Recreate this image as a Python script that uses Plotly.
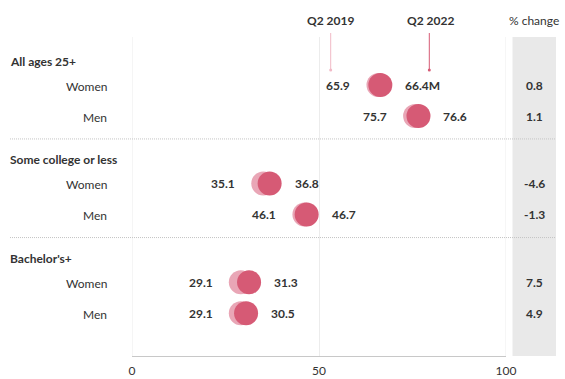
import plotly.graph_objects as go

# ---- data ----
groups = ["All ages 25+", "Some college or less", "Bachelor's+"]
row_labels = ["Women", "Men", "Women", "Men", "Women", "Men"]
row_group = [0, 0, 1, 1, 2, 2]
q2_2019 = [65.9, 75.7, 35.1, 46.1, 29.1, 29.1]
q2_2022 = [66.4, 76.6, 36.8, 46.7, 31.3, 30.5]
pct_change = ["0.8", "1.1", "-4.6", "-1.3", "7.5", "4.9"]
x_ticks = [0, 50, 100]

# ---- styling / layout helpers ----
FONT = "Lato, 'Open Sans', sans-serif"
TXT = "#333333"
LIGHT = "#e9a6b6"
DARK = "#d65a75"
GROUP_STEP = 3.18

sub_idx = []
seen = {}
for g in row_group:
    seen[g] = seen.get(g, -1) + 1
    sub_idx.append(seen[g])
ypos = [g * GROUP_STEP + s for g, s in zip(row_group, sub_idx)]

fig = go.Figure()
fig.add_trace(go.Scatter(x=q2_2019, y=ypos, mode="markers",
                         marker=dict(size=24, color=LIGHT, line=dict(width=0)),
                         hoverinfo="x", showlegend=False))
fig.add_trace(go.Scatter(x=q2_2022, y=ypos, mode="markers",
                         marker=dict(size=24, color=DARK, line=dict(width=0)),
                         hoverinfo="x", showlegend=False))

ann = []
shapes = []

def px2paper_x(px):
    return (px - 132) / 374.0

def px2paper_y(py):
    return (356 - py) / 319.0

# gray % change column
shapes.append(dict(type="rect", xref="paper", yref="paper",
                   x0=px2paper_x(512.5), x1=px2paper_x(556), y0=0, y1=1,
                   fillcolor="#e9e9e9", line=dict(width=0), layer="below"))

# faint vertical lines at the plot edges
for xv in [0, 100]:
    shapes.append(dict(type="line", xref="x", yref="paper", x0=xv, x1=xv, y0=0, y1=1,
                       line=dict(color="#ececec", width=1), layer="below"))

# value labels
for i, y in enumerate(ypos):
    ann.append(dict(x=q2_2019[i], y=y, xref="x", yref="y", text=f"<b>{q2_2019[i]}</b>",
                    showarrow=False, xanchor="right", xshift=-26,
                    font=dict(family=FONT, size=12, color=TXT)))
    suffix = "M" if i == 0 else ""
    ann.append(dict(x=q2_2022[i], y=y, xref="x", yref="y", text=f"<b>{q2_2022[i]}{suffix}</b>",
                    showarrow=False, xanchor="left", xshift=23,
                    font=dict(family=FONT, size=12, color=TXT)))
    ann.append(dict(x=px2paper_x(534), y=y, xref="paper", yref="y", text=f"<b>{pct_change[i]}</b>",
                    showarrow=False, xanchor="center",
                    font=dict(family=FONT, size=12, color=TXT)))
    ann.append(dict(x=px2paper_x(108.5), y=y, xref="paper", yref="y", text=row_labels[i],
                    showarrow=False, xanchor="right", yshift=-1,
                    font=dict(family=FONT, size=12, color=TXT)))

# group headers and separators
for g, name in enumerate(groups):
    start = g * GROUP_STEP
    ann.append(dict(x=px2paper_x(8), y=start - 0.77, xref="paper", yref="y",
                    text=f"<b>{name}</b>", showarrow=False, xanchor="left",
                    font=dict(family=FONT, size=12, color=TXT)))
    if g > 0:
        shapes.append(dict(type="line", xref="paper", yref="y",
                           x0=px2paper_x(10), x1=px2paper_x(556),
                           y0=start - 1.44, y1=start - 1.44,
                           line=dict(color="#c4c4c4", width=1, dash="1px,1px")))

# column headers
for xp, txt in [(330.5, "<b>Q2 2019</b>"), (430, "<b>Q2 2022</b>"), (534, "% change")]:
    ann.append(dict(x=px2paper_x(xp), y=px2paper_y(20), xref="paper", yref="paper",
                    text=txt, showarrow=False, xanchor="center", yanchor="middle",
                    font=dict(family=FONT, size=12, color=TXT)))

# pointer lines
for xp, col in [(330.7, "#f1b9c6"), (429.3, DARK)]:
    shapes.append(dict(type="line", xref="paper", yref="paper",
                       x0=px2paper_x(xp), x1=px2paper_x(xp),
                       y0=px2paper_y(33), y1=px2paper_y(70),
                       line=dict(color=col, width=1)))
    shapes.append(dict(type="circle", xref="paper", yref="paper",
                       x0=px2paper_x(xp - 1.5), x1=px2paper_x(xp + 1.5),
                       y0=px2paper_y(71.5), y1=px2paper_y(68.5),
                       fillcolor=col, line=dict(width=0)))

fig.update_layout(
    width=565, height=379,
    margin=dict(l=132, r=59, t=37, b=23, autoexpand=False),
    paper_bgcolor="white", plot_bgcolor="white",
    font=dict(family=FONT, size=12, color=TXT),
    xaxis=dict(range=[0, 100], tickvals=x_ticks, ticktext=[str(t) for t in x_ticks],
               showgrid=True, gridcolor="#ececec", gridwidth=1, zeroline=False,
               showline=True, linecolor="#c8c8c8", linewidth=1, ticks="",
               ticklabelstandoff=4, automargin=False,
               tickfont=dict(family=FONT, size=12, color=TXT), fixedrange=True),
    yaxis=dict(range=[8.74, -1.548], showgrid=False, zeroline=False,
               showticklabels=False, showline=False, fixedrange=True),
    annotations=ann, shapes=shapes, showlegend=False,
)

fig.write_html("out.html", config={"displayModeBar": False},
               post_script="document.body.style.margin='0';document.body.style.overflow='hidden';")
